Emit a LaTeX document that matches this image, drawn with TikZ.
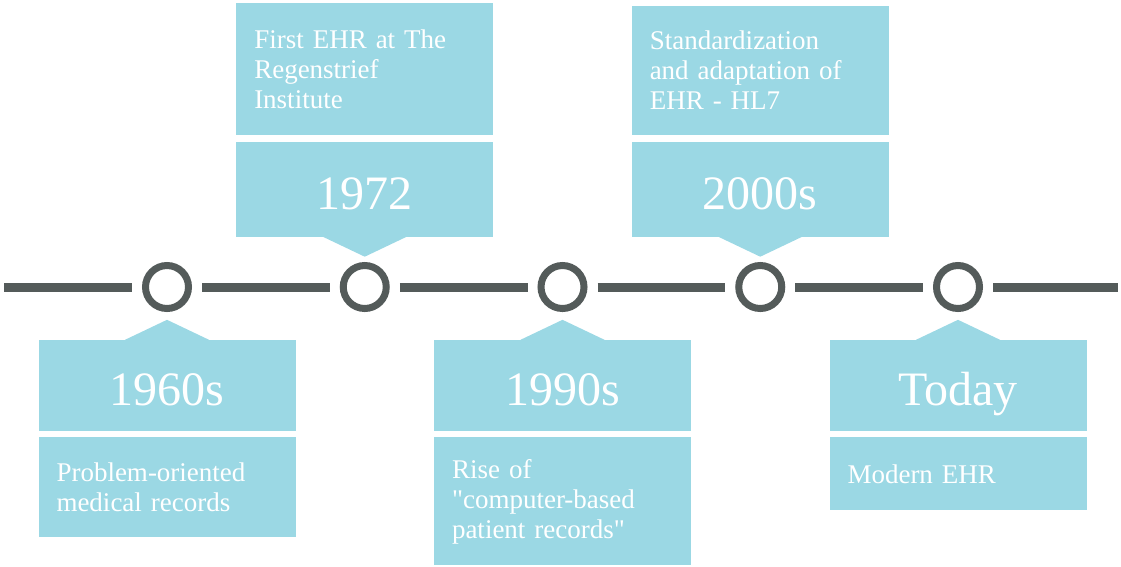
\documentclass[tikz,border=0pt]{standalone}
\usepackage{fontspec}
\setmainfont{Liberation Serif}
\usetikzlibrary{arrows}
\definecolor{boxblue}{HTML}{9BD8E4}
\definecolor{linegray}{HTML}{545B5A}
\newcommand\straightquote{\XeTeXglyph\XeTeXcharglyph"22\relax}

\begin{document}
\begin{tikzpicture}[x=1pt,y=-1pt,node distance=197.75pt,
                    main node/.style={circle,draw=linegray,line width=7pt,fill=white,
                      minimum size=43pt,inner sep=0pt,outer sep=13.5pt},
                    year box/.style={fill=boxblue,minimum width=257pt,minimum height=91pt,
                      inner sep=0pt,text=white,text height=40pt,text depth=0pt,
                      font=\fontsize{48}{48}\selectfont},
                    text box/.style={fill=boxblue,text width=221pt,inner xsep=18pt,
                      inner ysep=0pt,align=left,text=white,font=\fontsize{27}{30}\selectfont}]
  \useasboundingbox (0,0) rectangle (1121,566);
  % timeline
  \node[main node] (c1) at (167,287) {};
  \node[main node] (c2) [right of=c1] {};
  \node[main node] (c3) [right of=c2] {};
  \node[main node] (c4) [right of=c3] {};
  \node[main node] (c5) [right of=c4] {};
  \coordinate (start) at (4,287);
  \coordinate (end) at (1118,287);
  \path[draw=linegray,line width=9pt]
    (start) edge (c1)
    (c1) edge (c2)
    (c2) edge (c3)
    (c3) edge (c4)
    (c4) edge (c5)
    (c5) edge (end)
    ;
  % boxes below
  \node[year box] (y1) [below of=c1,node distance=98.5pt] {1960s};
  \node[year box] (y3) [below of=c3,node distance=98.5pt] {1990s};
  \node[year box] (y5) [below of=c5,node distance=98.5pt] {Today};
  \node[text box,minimum height=100pt,anchor=north] (t1) at ([yshift=-6pt]y1.south)
    {Problem-oriented\\medical records};
  \node[text box,minimum height=128pt,anchor=north] (t3) at ([yshift=-6pt]y3.south)
    {Rise of\\\straightquote computer-based\\patient records\straightquote};
  \node[text box,minimum height=73pt,anchor=north] (t5) at ([yshift=-6pt]y5.south)
    {Modern EHR};
  % boxes above
  \node[year box,minimum height=95pt] (y2) [above of=c2,node distance=98pt] {1972};
  \node[year box,minimum height=95pt] (y4) [above of=c4,node distance=98pt] {2000s};
  \node[text box,minimum height=132pt,anchor=south] (t2) at ([yshift=6pt]y2.north)
    {First EHR at The\\Regenstrief\\Institute};
  \node[text box,minimum height=129pt,anchor=south] (t4) at ([yshift=6pt]y4.north)
    {Standardization\\and adaptation of\\EHR - HL7};
  % pointers
  \foreach \n in {y1,y3,y5}
    \fill[boxblue] ([xshift=-42pt]\n.north) -- ([yshift=20pt]\n.north)
      -- ([xshift=42pt]\n.north) -- cycle;
  \foreach \n in {y2,y4}
    \fill[boxblue] ([xshift=-42pt]\n.south) -- ([yshift=-20pt]\n.south)
      -- ([xshift=42pt]\n.south) -- cycle;
\end{tikzpicture}
\end{document}
